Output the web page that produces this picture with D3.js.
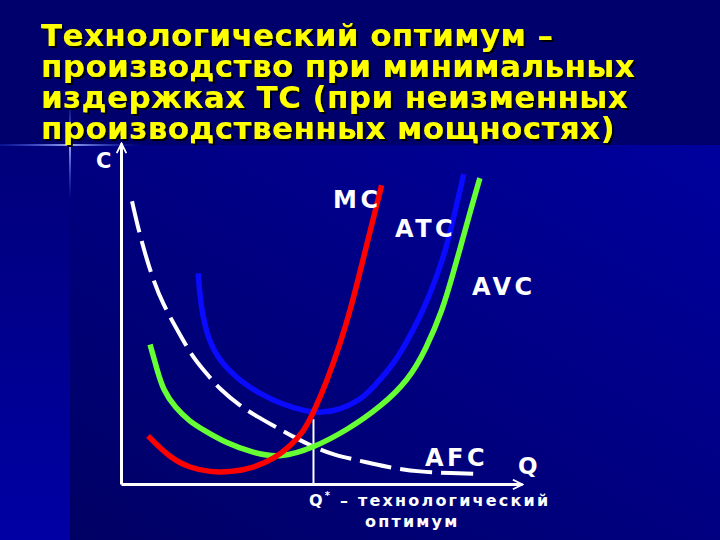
<!DOCTYPE html>
<html>
<head>
<meta charset="utf-8">
<script src="https://cdn.jsdelivr.net/npm/d3@7"></script>
<style>
  html, body { margin: 0; padding: 0; background: #000070; }
  svg { display: block; }
</style>
</head>
<body>
<div id="chart"></div>
<script>
// Заголовок (строки)
const titleLines = [
  "Технологический оптимум –",
  "производство при минимальных",
  "издержках ТС (при неизменных",
  "производственных мощностях)"
];

// Кривые: [Q, C]
const mcValues = [[6.75,14.1],[12.25,7.6],[17.25,4.7],[22.25,3.5],[27.25,3.5],[33,4.7],[38.5,7.6],[42.25,11.2],[45.5,15.3],[48,20.9],[51.5,30.6],[54.75,41.5],[57.25,51.2],[59.75,62.9],[61.75,72.4],[63.5,80.6],[65,87.6]];
const atcValues = [[19.25,61.8],[19.75,54.1],[21,45.3],[23.5,37.9],[27.25,32.9],[31,29.1],[34.75,26.5],[39.75,23.5],[46.5,21.2],[49.75,20.9],[54.75,21.8],[59.75,24.7],[63,28.5],[67.25,34.1],[71,40.9],[75.5,51.2],[78.5,60],[81.25,69.7],[82.75,77.1],[84.25,84.7],[85.5,90.9]];
const avcValues = [[7.25,40.9],[9,33.5],[10.5,27.6],[13.5,22.4],[17.25,18.2],[20.5,15.9],[26,12.1],[33,9.1],[39.75,7.6],[48,10.6],[56.5,15.9],[64.75,22.6],[71.75,30.6],[76,39.4],[80.25,51.2],[82.75,61.5],[85,70.9],[87.25,80.6],[89.5,89.7]];
const afcValues = [[2.75,82.9],[4.75,72.6],[7.75,60.6],[10.5,52.6],[14,45.3],[17.75,37.4],[21,32.9],[24.75,27.6],[29.75,22.9],[34,19.7],[38.5,16.8],[43,13.8],[48,10.9],[53,8.5],[59.75,6.8],[66,5],[74.75,3.5],[82.25,3.2],[89.75,2.9]];

const curveNames = ["MC", "ATC", "AVC", "AFC"];
const qStar = 48;        // технологический оптимум
const qStarTop = 19;     // под минимумом ATC
const axisLabels = ["C", "Q"];

const w = 720, h = 540;

const svg = d3.select("#chart").append("svg")
  .attr("width", w).attr("height", h)
  .style("font-family", "'DejaVu Sans', Verdana, sans-serif");

const defs = svg.append("defs");

// Фон
const gMain = defs.append("linearGradient").attr("id", "gMain")
  .attr("x1", "100%").attr("y1", "0%").attr("x2", "0%").attr("y2", "100%");
gMain.append("stop").attr("offset", "0%").attr("stop-color", "#00009e");
gMain.append("stop").attr("offset", "100%").attr("stop-color", "#000064");

const gLeft = defs.append("linearGradient").attr("id", "gLeft")
  .attr("x1", "0").attr("y1", "0").attr("x2", "0").attr("y2", "1");
gLeft.append("stop").attr("offset", "0%").attr("stop-color", "#00007a");
gLeft.append("stop").attr("offset", "100%").attr("stop-color", "#0000a4");

const gFlareH = defs.append("linearGradient").attr("id", "gFlareH");
gFlareH.append("stop").attr("offset", "0%").attr("stop-color", "#3355ff").attr("stop-opacity", 0.2);
gFlareH.append("stop").attr("offset", "50%").attr("stop-color", "#aabbff").attr("stop-opacity", 0.9);
gFlareH.append("stop").attr("offset", "100%").attr("stop-color", "#3355ff").attr("stop-opacity", 0);

const gFlareV = defs.append("linearGradient").attr("id", "gFlareV")
  .attr("x1", "0").attr("y1", "0").attr("x2", "0").attr("y2", "1");
gFlareV.append("stop").attr("offset", "0%").attr("stop-color", "#3355ff").attr("stop-opacity", 0);
gFlareV.append("stop").attr("offset", "45%").attr("stop-color", "#aabbff").attr("stop-opacity", 0.9);
gFlareV.append("stop").attr("offset", "100%").attr("stop-color", "#3355ff").attr("stop-opacity", 0);

// тень заголовка
const shadow = defs.append("filter").attr("id", "shadow")
  .attr("x", "-5%").attr("y", "-20%").attr("width", "110%").attr("height", "140%");
shadow.append("feDropShadow").attr("dx", 2).attr("dy", 2)
  .attr("stdDeviation", 0.3).attr("flood-color", "black").attr("flood-opacity", 1);

svg.append("rect").attr("width", w).attr("height", h).attr("fill", "#00006c");
svg.append("rect").attr("x", 70).attr("y", 145).attr("width", w - 70).attr("height", h - 145).attr("fill", "url(#gMain)");
svg.append("rect").attr("x", 0).attr("y", 145).attr("width", 70).attr("height", h - 145).attr("fill", "url(#gLeft)");
svg.append("rect").attr("x", 0).attr("y", 144).attr("width", 140).attr("height", 2).attr("fill", "url(#gFlareH)");
svg.append("rect").attr("x", 69).attr("y", 100).attr("width", 2).attr("height", 100).attr("fill", "url(#gFlareV)");

// Стрелки
defs.append("marker").attr("id", "arrow")
  .attr("viewBox", "0 0 10 10").attr("refX", 9).attr("refY", 5)
  .attr("markerWidth", 4).attr("markerHeight", 4).attr("orient", "auto")
  .append("path").attr("d", "M1,1 L9,5 L1,9").attr("fill", "none")
  .attr("stroke", "white").attr("stroke-width", 1.5);

// Шкалы
const x = d3.scaleLinear().domain([0, 100]).range([121, 522]);
const y = d3.scaleLinear().domain([0, 100]).range([484, 143]);

// Линия Q*
svg.append("line")
  .attr("x1", x(qStar)).attr("x2", x(qStar))
  .attr("y1", y(qStarTop)).attr("y2", y(0))
  .attr("stroke", "white").attr("stroke-width", 2);

// Оси
const xAxis = svg.append("g").attr("transform", "translate(0," + y(0) + ")")
  .call(d3.axisBottom(x).tickValues([]).tickSizeOuter(0));
const yAxis = svg.append("g").attr("transform", "translate(" + x(0) + ",0)")
  .call(d3.axisLeft(y).tickValues([]).tickSizeOuter(0));
[xAxis, yAxis].forEach(a => a.select(".domain")
  .attr("stroke", "white").attr("stroke-width", 3)
  .attr("marker-end", "url(#arrow)"));

// Кривые
const line = d3.line()
  .x(d => x(d[0]))
  .y(d => y(d[1]))
  .curve(d3.curveBasis);

const series = [
  { name: "AFC", values: afcValues, color: "white", width: 4, dash: "32,9" },
  { name: "AVC", values: avcValues, color: "#66ff33", width: 5.5, dash: null },
  { name: "ATC", values: atcValues, color: "#0a0aff", width: 5.5, dash: null },
  { name: "MC",  values: mcValues,  color: "#ff0000", width: 5.5, dash: null }
];

svg.selectAll("path.curve")
  .data(series)
  .enter()
  .append("path")
  .attr("class", "curve")
  .attr("d", d => line(d.values))
  .attr("fill", "none")
  .attr("stroke", d => d.color)
  .attr("stroke-width", d => d.width)
  .attr("stroke-dasharray", d => d.dash)
  .attr("stroke-linecap", "butt");

// Подписи кривых
const labelPos = { MC: [333, 208], ATC: [395, 237], AVC: [472, 295], AFC: [425, 466] };
svg.selectAll("text.curve-label")
  .data(curveNames)
  .enter()
  .append("text")
  .attr("class", "curve-label")
  .attr("x", d => labelPos[d][0])
  .attr("y", d => labelPos[d][1])
  .attr("fill", "white")
  .attr("font-size", 24)
  .attr("font-weight", "bold")
  .attr("letter-spacing", 3.5)
  .text(d => d);

// Подписи осей
svg.append("text").attr("x", 96).attr("y", 168).attr("fill", "white")
  .attr("font-size", 21).attr("font-weight", "bold").text(axisLabels[0]);
svg.append("text").attr("x", 518).attr("y", 474).attr("fill", "white")
  .attr("font-size", 23).attr("font-weight", "bold").text(axisLabels[1]);

// Q* — технологический оптимум
const qLab = svg.append("text").attr("x", 309).attr("y", 506).attr("fill", "white")
  .attr("font-size", 16).attr("font-weight", "bold").attr("letter-spacing", 2.2);
qLab.append("tspan").text("Q");
qLab.append("tspan").attr("font-size", 10).attr("dy", -7).text("*");
qLab.append("tspan").attr("dy", 7).text(" – технологический");
svg.append("text").attr("x", 365).attr("y", 527).attr("fill", "white")
  .attr("font-size", 16).attr("font-weight", "bold").attr("letter-spacing", 2.2)
  .text("оптимум");

// Заголовок
svg.append("g").attr("filter", "url(#shadow)")
  .selectAll("text")
  .data(titleLines)
  .enter()
  .append("text")
  .attr("x", 41)
  .attr("y", (d, i) => 46 + i * 31)
  .attr("fill", "#ffff00")
  .attr("font-size", 31)
  .attr("font-weight", "bold")
  .attr("letter-spacing", 0.4)
  .text(d => d);
</script>
</body>
</html>
